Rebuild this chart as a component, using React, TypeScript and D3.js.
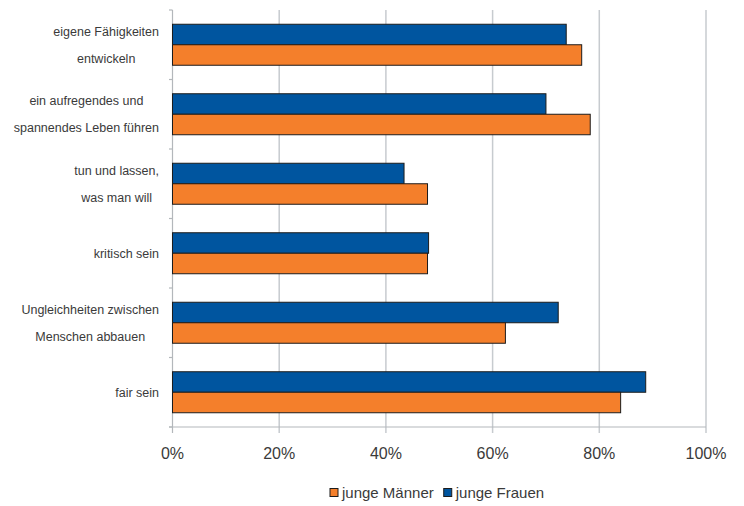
import React, { useRef, useEffect } from 'react';
import * as d3 from 'd3';

// ==================== DATA ====================
const categories: string[][] = [
  ['eigene Fähigkeiten', 'entwickeln'],
  ['ein aufregendes und', 'spannendes Leben führen'],
  ['tun und lassen,', 'was man will'],
  ['kritisch sein'],
  ['Ungleichheiten zwischen', 'Menschen abbauen'],
  ['fair sein'],
];
const frauen = [73.8, 70.0, 43.4, 48.0, 72.3, 88.7];
const maenner = [76.7, 78.3, 47.8, 47.8, 62.4, 84.0];
const xTicks = [0, 20, 40, 60, 80, 100];
const seriesNames = ['junge Frauen', 'junge Männer'];
const legendOrder = ['junge Männer', 'junge Frauen'];

// ==================== CONFIGURATION ====================
const COLORS: Record<string, string> = {
  'junge Frauen': '#00559f',
  'junge Männer': '#f47f2b',
  stroke: '#1c1c1c',
  grid: '#c7cbcf',
  axis: '#b3b7bb',
  text: '#3a3a3a',
};
const FONT = "'Liberation Sans', Arial, sans-serif";
const W = 744;
const H = 506;

const App = () => {
  const svgRef = useRef<SVGSVGElement | null>(null);

  useEffect(() => {
    if (!svgRef.current) return;
    const svg = d3.select(svgRef.current);
    svg.selectAll('*').remove();

    const keys = categories.map(c => c.join(' '));
    const x = d3.scaleLinear().domain([0, 100]).range([172.5, 706]);
    const y = d3.scaleBand<string>().domain(keys).range([10, 427]).padding(0);
    const sub = d3.scaleBand<string>().domain(seriesNames)
      .range([0, y.bandwidth()]).paddingInner(0).paddingOuter(0.695);

    const g = svg.append('g');

    // grid lines
    g.selectAll('.grid')
      .data(xTicks.slice(1))
      .enter().append('line')
      .attr('x1', d => x(d)).attr('x2', d => x(d))
      .attr('y1', 10).attr('y2', 433)
      .attr('stroke', COLORS.grid)
      .attr('stroke-width', 1.5);

    // axes
    g.append('line')
      .attr('x1', x(0)).attr('x2', x(0)).attr('y1', 10).attr('y2', 433)
      .attr('stroke', COLORS.axis).attr('stroke-width', 1.2);
    g.append('line')
      .attr('x1', 169).attr('x2', x(100)).attr('y1', 427).attr('y2', 427)
      .attr('stroke', COLORS.axis).attr('stroke-width', 1.2);

    // y ticks at band boundaries
    const bounds = keys.map(k => y(k) as number).concat([427]);
    g.selectAll('.ytick')
      .data(bounds)
      .enter().append('line')
      .attr('x1', 169).attr('x2', x(0))
      .attr('y1', d => d).attr('y2', d => d)
      .attr('stroke', COLORS.axis).attr('stroke-width', 1.2);

    // bars
    const rows = keys.map((k, i) => ({ key: k, vals: [frauen[i], maenner[i]] }));
    const rowG = g.selectAll('.row')
      .data(rows)
      .enter().append('g')
      .attr('transform', d => `translate(0,${y(d.key)})`);
    rowG.selectAll('rect')
      .data(d => d.vals.map((v, j) => ({ name: seriesNames[j], v })))
      .enter().append('rect')
      .attr('x', x(0))
      .attr('y', d => sub(d.name) as number)
      .attr('width', d => x(d.v) - x(0))
      .attr('height', sub.bandwidth())
      .attr('fill', d => COLORS[d.name])
      .attr('stroke', COLORS.stroke)
      .attr('stroke-width', 1);

    // x tick labels
    g.selectAll('.xlab')
      .data(xTicks)
      .enter().append('text')
      .attr('x', d => x(d))
      .attr('y', 459)
      .attr('text-anchor', 'middle')
      .attr('font-family', FONT)
      .attr('font-size', 16)
      .attr('fill', COLORS.text)
      .text(d => `${d}%`);

    // category labels: block right aligned, lines centred inside the block
    const rightEdge = 159;
    categories.forEach((lines, i) => {
      const cy = (y(keys[i]) as number) + y.bandwidth() / 2;
      const texts = lines.map((line, j) =>
        g.append('text')
          .attr('y', cy + (j - (lines.length - 1) / 2) * 27 + 4.5)
          .attr('text-anchor', 'middle')
          .attr('font-family', FONT)
          .attr('font-size', 12.5)
          .attr('fill', COLORS.text)
          .text(line)
      );
      const widths = texts.map(t => (t.node() as SVGTextElement).getComputedTextLength());
      const maxW = d3.max(widths) || 0;
      texts.forEach(t => t.attr('x', rightEdge - maxW / 2));
    });

    // legend
    const leg = g.append('g');
    let lx = 330;
    legendOrder.forEach(name => {
      leg.append('rect')
        .attr('x', lx).attr('y', 488.5)
        .attr('width', 8).attr('height', 8)
        .attr('fill', COLORS[name])
        .attr('stroke', COLORS.stroke).attr('stroke-width', 1);
      const t = leg.append('text')
        .attr('x', lx + 12).attr('y', 498)
        .attr('font-family', FONT)
        .attr('font-size', 15)
        .attr('fill', COLORS.text)
        .text(name);
      lx += 12 + (t.node() as SVGTextElement).getComputedTextLength() + 10;
    });
  }, []);

  return (
    <div style={{ position: 'fixed', left: 0, top: 0, width: W, height: H, background: '#fff' }}>
      <svg ref={svgRef} width={W} height={H} style={{ display: 'block' }} />
    </div>
  );
};

export default App;
